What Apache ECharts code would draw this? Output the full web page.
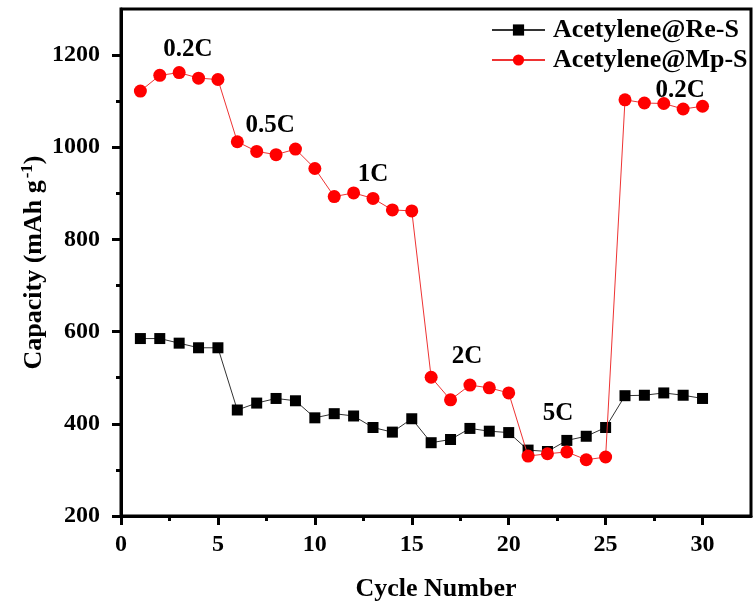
<!DOCTYPE html>
<html>
<head>
<meta charset="utf-8">
<style>
  html, body { margin: 0; padding: 0; background: #fff; }
  #chart { width: 753px; height: 607px; }
</style>
<script src="https://cdn.jsdelivr.net/npm/echarts@6/dist/echarts.min.js"></script>
</head>
<body>
<div id="chart"></div>
<script>
// Rate capability of two sulfur cathodes
const cycles = [1,2,3,4,5,6,7,8,9,10,11,12,13,14,15,16,17,18,19,20,21,22,23,24,25,26,27,28,29,30];
const reS = [585,585,575,565,565,430,445,455,450,413,422,417,392,382,411,359,366,390,384,381,343,340,364,373,392,461,462,467,462,455];
const mpS = [1122,1156,1162,1150,1147,1012,991,984,996,954,893,901,889,864,862,501,452,484,478,467,330,335,339,322,328,1103,1096,1095,1083,1089];
const seriesNames = ['Acetylene@Re-S', 'Acetylene@Mp-S'];
// C-rate annotations placed in data coordinates: [cycle, capacity, text]
const rateLabels = [
  [3.45, 1213, '0.2C'],
  [7.69, 1048, '0.5C'],
  [13.0, 941, '1C'],
  [17.85, 546, '2C'],
  [22.55, 422, '5C'],
  [28.84, 1122, '0.2C']
];
const xTicks = [0, 5, 10, 15, 20, 25, 30];
const xMinorTicks = [2.5, 7.5, 12.5, 17.5, 22.5, 27.5];
const yTicks = [200, 400, 600, 800, 1000, 1200];
const yMinorTicks = [300, 500, 700, 900, 1100];

const FONT = '"Liberation Serif", "Times New Roman", serif';
const chart = echarts.init(document.getElementById('chart'));

const tickStyle = { color: '#000', width: 3 };
const labelFont = { fontFamily: FONT, fontWeight: 'bold', fontSize: 24, color: '#000' };
const plain = v => String(v);

chart.setOption({
  animation: false,
  backgroundColor: '#fff',
  grid: {
    left: 121, right: 2, top: 9, bottom: 91,
    show: true, borderColor: '#000', borderWidth: 3, containLabel: false
  },
  legend: {
    orient: 'vertical',
    left: 486, top: 12,
    itemWidth: 53, itemHeight: 14, itemGap: 4,
    textStyle: { fontFamily: FONT, fontWeight: 'bold', fontSize: 26, color: '#000', padding: [0, 0, 0, 3] },
    data: seriesNames
  },
  xAxis: [
    {
      type: 'value', min: 0, max: 32.5,
      name: 'Cycle Number', nameLocation: 'middle', nameGap: 60, nameMoveOverlap: false,
      nameTextStyle: { fontFamily: FONT, fontWeight: 'bold', fontSize: 26, color: '#000' },
      axisLine: { show: true, lineStyle: tickStyle },
      splitLine: { show: false },
      axisTick: { show: true, inside: false, length: 9, lineStyle: tickStyle, customValues: xTicks },
      axisLabel: Object.assign({ margin: 17, customValues: xTicks, formatter: plain }, labelFont)
    },
    {
      type: 'value', min: 0, max: 32.5, position: 'bottom',
      axisLine: { show: false },
      splitLine: { show: false },
      axisTick: { show: true, inside: false, length: 5, lineStyle: tickStyle, customValues: xMinorTicks },
      axisLabel: { show: false }
    }
  ],
  yAxis: [
    {
      type: 'value', min: 200, max: 1300,
      name: 'Capacity (mAh g{sup|-1})', nameLocation: 'middle', nameGap: 72, nameMoveOverlap: false,
      nameTextStyle: {
        fontFamily: FONT, fontWeight: 'bold', fontSize: 26, color: '#000',
        rich: { sup: { fontFamily: FONT, fontWeight: 'bold', fontSize: 17, color: '#000', verticalAlign: 'bottom', padding: [0, 0, 13, 2] } }
      },
      axisLine: { show: true, lineStyle: tickStyle },
      splitLine: { show: false },
      axisTick: { show: true, inside: false, length: 9, lineStyle: tickStyle, customValues: yTicks },
      axisLabel: Object.assign({ margin: 21, customValues: yTicks, formatter: plain }, labelFont)
    },
    {
      type: 'value', min: 200, max: 1300, position: 'left',
      axisLine: { show: false },
      splitLine: { show: false },
      axisTick: { show: true, inside: false, length: 5, lineStyle: tickStyle, customValues: yMinorTicks },
      axisLabel: { show: false }
    }
  ],
  series: [
    {
      name: seriesNames[0], type: 'line',
      data: cycles.map((c, i) => [c, reS[i]]),
      symbol: 'rect', symbolSize: 11,
      itemStyle: { color: '#000' },
      lineStyle: { color: '#333', width: 1 },
      z: 2
    },
    {
      name: seriesNames[1], type: 'line',
      data: cycles.map((c, i) => [c, mpS[i]]),
      symbol: 'circle', symbolSize: 13,
      itemStyle: { color: '#ff0000' },
      lineStyle: { color: '#ee3333', width: 1 },
      z: 3
    },
    {
      name: 'rates', type: 'scatter',
      data: rateLabels.map(r => ({ value: [r[0], r[1]], name: r[2] })),
      symbolSize: 0, silent: true,
      itemStyle: { opacity: 1 },
      label: Object.assign({ show: true, position: 'inside', formatter: p => p.name }, labelFont, { fontSize: 25 }),
      z: 5
    }
  ]
});
</script>
</body>
</html>
